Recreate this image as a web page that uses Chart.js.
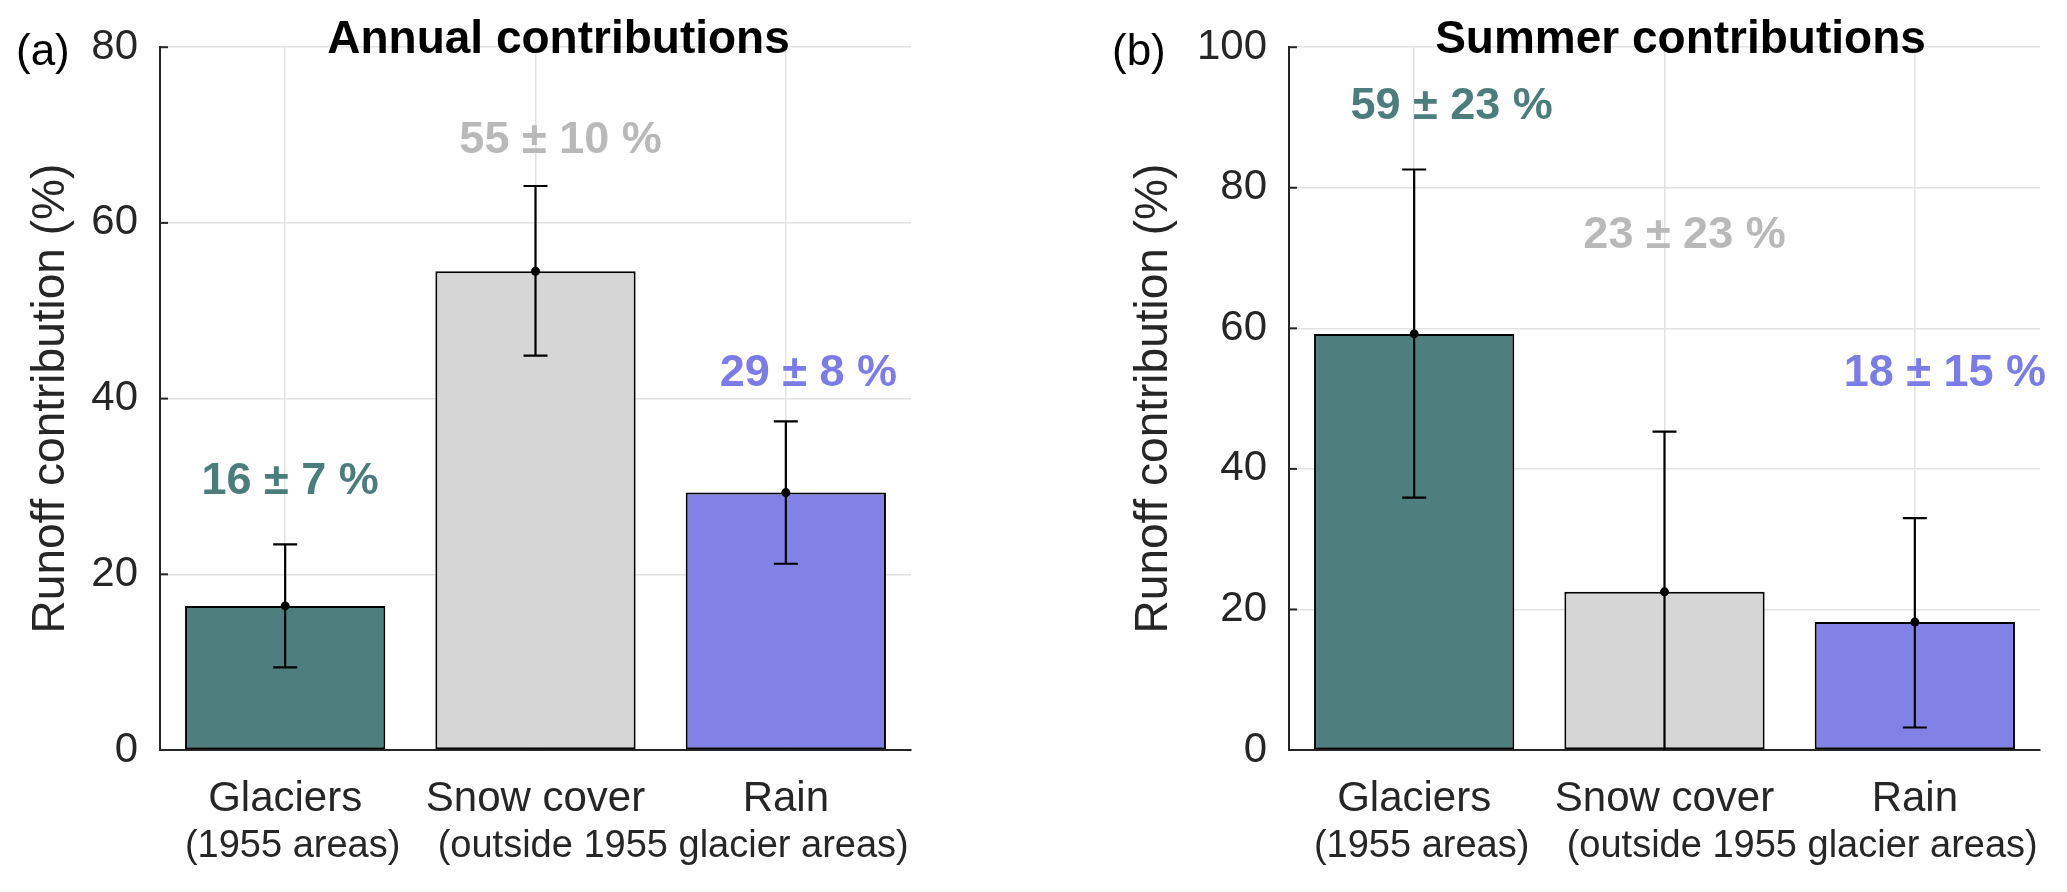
<!DOCTYPE html>
<html lang="en">
<head>
<meta charset="UTF-8">
<title>Runoff contributions</title>
<script src="https://cdn.jsdelivr.net/npm/chart.js"></script>
<style>
  html, body { margin: 0; padding: 0; background: #fff; }
  body { width: 2067px; height: 892px; position: relative; overflow: hidden; }
  .panel { position: absolute; top: 0; height: 892px; }
  #panelA { left: 0; width: 1000px; }
  #panelB { left: 1000px; width: 1067px; }
</style>
</head>
<body>
<div class="panel" id="panelA"><canvas id="annualChart"></canvas></div>
<div class="panel" id="panelB"><canvas id="summerChart"></canvas></div>
<script>
// categories and second line of the axis labels
const categories = ['Glaciers', 'Snow cover', 'Rain'];
const subLabels = ['(1955 areas)', '(outside 1955 glacier areas)'];
const subLabelAt = [0.03, 1.55];

// annual contributions (%)
const annualValues = [16.4, 54.5, 29.3];
const annualErrLow = [9.4, 44.9, 21.2];
const annualErrHigh = [23.4, 64.2, 37.4];
const annualText = ['16 \u00b1 7 %', '55 \u00b1 10 %', '29 \u00b1 8 %'];
const annualTextX = [0.02, 1.10, 2.09];
const annualTextY = [30.5, 69.4, 42.9];

// summer contributions (%)
const summerValues = [59.2, 22.5, 18.2];
const summerErrLow = [35.9, -0.5, 3.2];
const summerErrHigh = [82.6, 45.3, 33.0];
const summerText = ['59 \u00b1 23 %', '23 \u00b1 23 %', '18 \u00b1 15 %'];
const summerTextX = [0.15, 1.08, 2.12];
const summerTextY = [91.5, 73.2, 53.5];

const barColors = ['#4e7f7e', '#d6d6d6', '#8282e6'];
const textColors = ['#4b7d7c', '#b9b9b9', '#7c7ce8'];
const axisColor = '#262626';
const gridColor = '#e2e2e2';
const fontFamily = "'Liberation Sans', Arial, sans-serif";

Chart.defaults.font.family = fontFamily;

// error bars, value labels, titles etc.
function overlay(cfg) {
  return {
    id: 'overlay',
    afterDatasetsDraw(chart) {
      const { ctx, chartArea: a, scales: { x, y } } = chart;
      ctx.save();
      ctx.beginPath();
      ctx.rect(a.left, a.top - 30, a.right - a.left, a.bottom - a.top + 30);
      ctx.clip();
      ctx.strokeStyle = '#000';
      ctx.fillStyle = '#000';
      ctx.lineWidth = 2.2;
      cfg.values.forEach((v, i) => {
        const px = x.getPixelForValue(i);
        const lo = y.getPixelForValue(cfg.errLow[i]);
        const hi = y.getPixelForValue(cfg.errHigh[i]);
        ctx.beginPath();
        ctx.moveTo(px, lo); ctx.lineTo(px, hi);
        ctx.moveTo(px - 12, lo); ctx.lineTo(px + 12, lo);
        ctx.moveTo(px - 12, hi); ctx.lineTo(px + 12, hi);
        ctx.stroke();
        ctx.beginPath();
        ctx.arc(px, y.getPixelForValue(v), 4.5, 0, Math.PI * 2);
        ctx.fill();
      });
      ctx.restore();
    },
    afterDraw(chart) {
      const { ctx, chartArea: a, scales: { x, y } } = chart;
      ctx.save();
      // inward y ticks
      ctx.strokeStyle = axisColor;
      ctx.lineWidth = 2;
      y.ticks.forEach(t => {
        const py = y.getPixelForValue(t.value);
        ctx.beginPath(); ctx.moveTo(a.left, py); ctx.lineTo(a.left + 8, py); ctx.stroke();
      });
      // value labels
      ctx.font = 'bold 45px ' + fontFamily;
      ctx.textAlign = 'center';
      ctx.textBaseline = 'middle';
      cfg.text.forEach((s, i) => {
        ctx.fillStyle = textColors[i];
        ctx.fillText(s, x.getPixelForValue(cfg.textX[i]), y.getPixelForValue(cfg.textY[i]));
      });
      // second line of category labels
      ctx.font = '38px ' + fontFamily;
      ctx.fillStyle = axisColor;
      ctx.textBaseline = 'alphabetic';
      subLabels.forEach((s, i) => {
        ctx.fillText(s, x.getPixelForValue(subLabelAt[i]), a.bottom + 107);
      });
      // title
      ctx.font = 'bold 46px ' + fontFamily;
      ctx.fillStyle = '#000';
      ctx.fillText(cfg.title, (a.left + a.right) / 2 + cfg.titleDx, 53);
      // panel letter
      ctx.font = '44px ' + fontFamily;
      ctx.textAlign = 'left';
      ctx.fillText(cfg.letter, cfg.letterX, 65);
      ctx.restore();
    }
  };
}

function makeChart(id, cfg) {
  return new Chart(document.getElementById(id), {
    type: 'bar',
    data: {
      labels: categories,
      datasets: [{
        data: cfg.values,
        backgroundColor: barColors,
        borderColor: '#000',
        borderWidth: 2,
        borderSkipped: false,
        barPercentage: 0.8,
        categoryPercentage: 1
      }]
    },
    options: {
      responsive: true,
      maintainAspectRatio: false,
      animation: false,
      layout: { padding: { top: 45, right: cfg.padRight, bottom: 0, left: 0 } },
      plugins: {
        legend: { display: false },
        tooltip: { enabled: false }
      },
      scales: {
        x: {
          offset: true,
          grid: { offset: false, color: gridColor, lineWidth: 1.5, drawTicks: false },
          border: { color: axisColor, width: 2 },
          ticks: { font: { size: 42 }, color: axisColor, padding: 24, maxRotation: 0, autoSkip: false },
          afterFit: s => { s.height = 142; }
        },
        y: {
          min: 0,
          max: cfg.max,
          grid: { color: gridColor, lineWidth: 1.5, drawTicks: false },
          border: { color: axisColor, width: 2 },
          ticks: { stepSize: 20, font: { size: 42 }, color: axisColor, padding: 22 },
          title: {
            display: true,
            text: 'Runoff contribution (%)',
            font: { size: 46 },
            color: axisColor,
            padding: { top: cfg.yTitlePad, bottom: 0 }
          },
          afterFit: s => { s.width = cfg.axisLeft; }
        }
      }
    },
    plugins: [overlay(cfg)]
  });
}

makeChart('annualChart', {
  values: annualValues, errLow: annualErrLow, errHigh: annualErrHigh,
  text: annualText, textX: annualTextX, textY: annualTextY,
  max: 80, axisLeft: 160, padRight: 89, yTitlePad: 24,
  title: 'Annual contributions', titleDx: 23, letter: '(a)', letterX: 16
});

makeChart('summerChart', {
  values: summerValues, errLow: summerErrLow, errHigh: summerErrHigh,
  text: summerText, textX: summerTextX, textY: summerTextY,
  max: 100, axisLeft: 289, padRight: 27, yTitlePad: 127,
  title: 'Summer contributions', titleDx: 16, letter: '(b)', letterX: 112
});
</script>
</body>
</html>
